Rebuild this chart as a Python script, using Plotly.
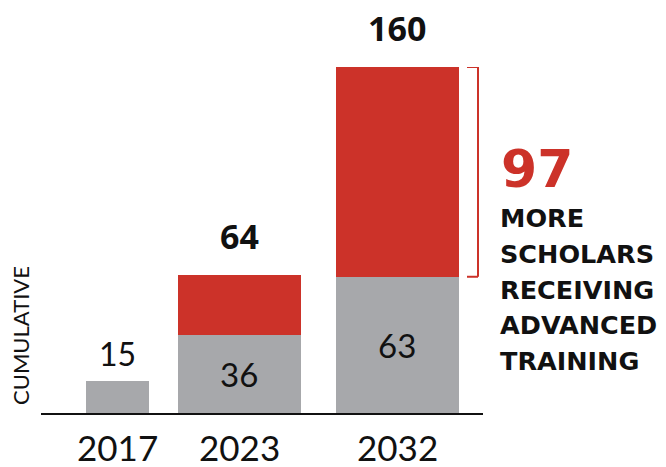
import plotly.graph_objects as go

# ---- data ----
years = ["2017", "2023", "2032"]
base_values = [15, 36, 63]          # gray (existing)
added_values = [0, 28, 97]          # red (additional)
totals = [15, 64, 160]
callout_number = "97"
callout_lines = ["MORE", "SCHOLARS", "RECEIVING", "ADVANCED", "TRAINING"]
y_title = "CUMULATIVE"

# ---- style ----
RED = "#CC3229"
GRAY = "#A7A8AB"
BLACK = "#111111"
bar_widths = [0.45, 0.88, 0.88]
bar_offsets = [-0.225, -0.569, -0.44]
label_xshift = [0, -18, 0]

fig = go.Figure()
fig.add_trace(go.Bar(x=years, y=base_values, marker_color=GRAY, marker_line_width=0,
                     width=bar_widths, offset=bar_offsets, hoverinfo="skip"))
fig.add_trace(go.Bar(x=years, y=added_values, marker_color=RED, marker_line_width=0,
                     width=bar_widths, offset=bar_offsets, hoverinfo="skip"))

ann = []
# total labels above bars
for i, tot in enumerate(totals):
    bold = i > 0
    ann.append(dict(x=i, y=tot, xref="x", yref="y", text=str(tot), showarrow=False,
                    xanchor="center", yanchor="bottom", xshift=label_xshift[i],
                    yshift=14 if bold else 6,
                    font=dict(family="Open Sans" if bold else "Lato", size=34 if bold else 32,
                              color=BLACK, weight="bold" if bold else "normal")))
# inner labels in gray part (the first bar has its label above)
for i, v in enumerate(base_values):
    if i == 0:
        continue
    ann.append(dict(x=i, y=v / 2, xref="x", yref="y", text=str(v), showarrow=False,
                    xanchor="center", yanchor="middle", xshift=label_xshift[i],
                    font=dict(family="Lato", size=33, color=BLACK)))
# year labels
for i, yr in enumerate(years):
    ann.append(dict(x=i, y=0, xref="x", yref="y", text=yr, showarrow=False,
                    xanchor="center", yanchor="middle", xshift=label_xshift[i], yshift=-34,
                    font=dict(family="Lato", size=35, color=BLACK)))
# rotated axis title
ann.append(dict(x=-0.048, y=0.225, xref="paper", yref="paper", text=y_title, showarrow=False,
                textangle=-90, xanchor="center", yanchor="middle",
                font=dict(family="Lato", size=22, color=BLACK)))
# callout
ann.append(dict(x=1.036, y=(413 - 168.5) / 346, xref="paper", yref="paper", text=callout_number,
                showarrow=False, xanchor="left", yanchor="middle",
                font=dict(family="DejaVu Sans", size=52, color=RED, weight="bold")))
for k, line in enumerate(callout_lines):
    cy = 218 + 35.8 * k
    ann.append(dict(x=1.034, y=(413 - cy) / 346, xref="paper", yref="paper", text=line,
                    showarrow=False, xanchor="left", yanchor="middle",
                    font=dict(family="DejaVu Sans", size=25.5, color=BLACK, weight="bold")))

# bracket spanning the red segment of the last bar
lo, hi = base_values[-1], totals[-1]
shapes = [
    dict(type="line", xref="paper", yref="y", x0=0.9887, x1=0.9887, y0=lo, y1=hi,
         line=dict(color=RED, width=2)),
    dict(type="line", xref="paper", yref="y", x0=0.9638, x1=0.9887, y0=hi, y1=hi,
         line=dict(color=RED, width=2)),
    dict(type="line", xref="paper", yref="y", x0=0.9638, x1=0.9887, y0=lo, y1=lo,
         line=dict(color=RED, width=2)),
]

fig.update_layout(
    barmode="stack",
    width=666, height=467,
    margin=dict(l=41, r=183, t=67, b=54),
    paper_bgcolor="white", plot_bgcolor="white",
    showlegend=False,
    annotations=ann,
    shapes=shapes,
    xaxis=dict(type="category", range=[-0.546, 2.611], showticklabels=False, ticks="",
               showgrid=False, zeroline=False, showline=True, linecolor=BLACK, linewidth=2),
    yaxis=dict(range=[0, 160], showticklabels=False, ticks="", showgrid=False,
               zeroline=False, showline=False),
)

fig.write_html("out.html", config={"displayModeBar": False},
               post_script="document.body.style.margin='0px';")
